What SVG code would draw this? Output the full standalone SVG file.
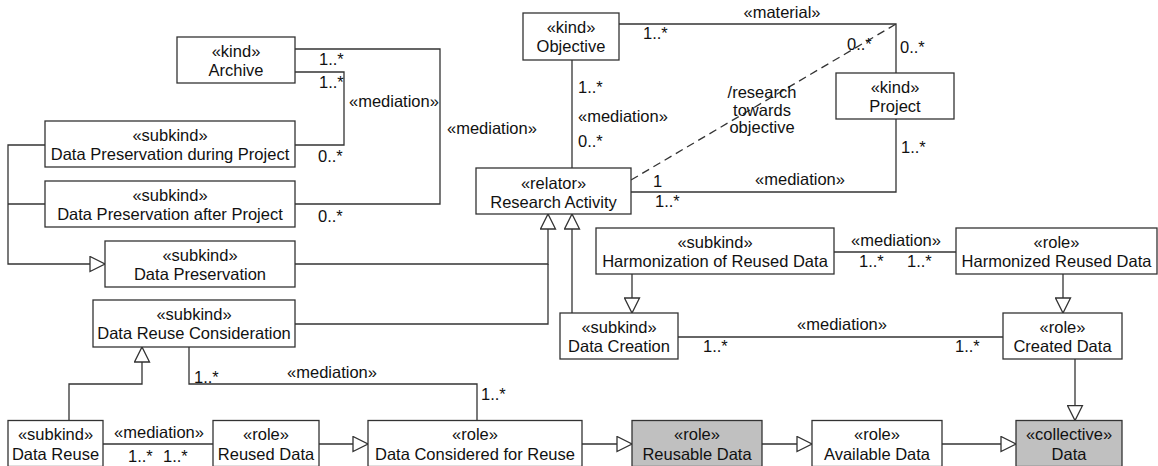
<svg xmlns="http://www.w3.org/2000/svg" width="1158" height="466" viewBox="0 0 1158 466">
<defs>
<style>
.box{fill:#fff;stroke:#333;stroke-width:1.3}
.gray{fill:#c0c0c0}
.ln{fill:none;stroke:#333;stroke-width:1.3}
.dash{stroke-dasharray:8 5}
.gen{marker-end:url(#tri)}
text{font-family:"Liberation Sans",Arial,sans-serif;font-size:16.5px;fill:#111}
.c{text-anchor:middle}
</style>
<marker id="tri" markerUnits="userSpaceOnUse" viewBox="-1 -1 18 17" refX="15" refY="7.5" markerWidth="18" markerHeight="17" orient="auto">
<path d="M0,0 L15,7.5 L0,15 Z" fill="#fff" stroke="#333" stroke-width="1.3"/>
</marker>
</defs>
<rect width="1158" height="466" fill="#fff"/>
<g id="connectors">
<path class="ln" d="M295,49 H440 V204 H295"/>
<path class="ln" d="M295,72 H344 V145 H295"/>
<path class="ln" d="M619,24 H896 V73"/>
<path class="ln" d="M572,60 V168"/>
<path class="ln" d="M631,192 H896 V119"/>
<path class="ln dash" d="M631,180 L896,24"/>
<path class="ln" d="M834,252 H956"/>
<path class="ln" d="M678,337 H1003"/>
<path class="ln" d="M189,347 V384 H477 V420.5"/>
<path class="ln" d="M103,444 H213"/>
<path class="ln" d="M45,204 H8"/>
<path class="ln gen" d="M45,145 H8 V264 H105"/>
<path class="ln" d="M295,324 H548 V264"/>
<path class="ln gen" d="M295,264 H548 V214"/>
<path class="ln gen" d="M572,313 V214"/>
<path class="ln gen" d="M632,274 V313"/>
<path class="ln gen" d="M1063,274 V313"/>
<path class="ln gen" d="M1075,359 V420.5"/>
<path class="ln gen" d="M69,420.5 V384 H142 V347"/>
<path class="ln gen" d="M319,444 H368"/>
<path class="ln gen" d="M582,444 H632"/>
<path class="ln gen" d="M762,444 H812"/>
<path class="ln gen" d="M942,444 H1016"/>
<text x="319" y="65">1..*</text>
<text x="319" y="88">1..*</text>
<text x="349" y="107">«mediation»</text>
<text x="318" y="162">0..*</text>
<text x="318" y="222">0..*</text>
<text x="447" y="134">«mediation»</text>
<text class="c" x="782" y="18">«material»</text>
<text x="643" y="39">1..*</text>
<text x="847" y="50">0..*</text>
<text x="900" y="53">0..*</text>
<text x="578" y="93">1..*</text>
<text x="578" y="122">«mediation»</text>
<text x="578" y="147">0..*</text>
<text class="c" x="762" y="98">/research</text>
<text class="c" x="762" y="116">towards</text>
<text class="c" x="762" y="133">objective</text>
<text x="653" y="187">1</text>
<text x="655" y="207">1..*</text>
<text class="c" x="800" y="185">«mediation»</text>
<text x="901" y="153">1..*</text>
<text class="c" x="896" y="246">«mediation»</text>
<text x="859" y="267">1..*</text>
<text x="907" y="267">1..*</text>
<text class="c" x="842" y="330">«mediation»</text>
<text x="703" y="352">1..*</text>
<text x="955" y="352">1..*</text>
<text x="194" y="383">1..*</text>
<text class="c" x="332" y="378">«mediation»</text>
<text x="481" y="400">1..*</text>
<text class="c" x="159" y="438">«mediation»</text>
<text x="128" y="462">1..*</text>
<text x="163" y="462">1..*</text>
</g>
<g id="archive"><rect class="box" x="177" y="37" width="118" height="46"/><text class="c" x="236" y="57">«kind»</text><text class="c" x="236" y="76">Archive</text></g>
<g id="dpdp"><rect class="box" x="45" y="121" width="250" height="46"/><text class="c" x="170" y="141">«subkind»</text><text class="c" x="170" y="160">Data Preservation during Project</text></g>
<g id="dpap"><rect class="box" x="45" y="181" width="250" height="46"/><text class="c" x="170" y="201">«subkind»</text><text class="c" x="170" y="220">Data Preservation after Project</text></g>
<g id="dp"><rect class="box" x="105" y="241" width="190" height="46"/><text class="c" x="200" y="261">«subkind»</text><text class="c" x="200" y="280">Data Preservation</text></g>
<g id="drc"><rect class="box" x="93" y="300" width="202" height="47"/><text class="c" x="194" y="320">«subkind»</text><text class="c" x="194" y="339">Data Reuse Consideration</text></g>
<g id="objective"><rect class="box" x="523" y="13" width="96" height="47"/><text class="c" x="571" y="33">«kind»</text><text class="c" x="571" y="52">Objective</text></g>
<g id="project"><rect class="box" x="836" y="73" width="118" height="46"/><text class="c" x="895" y="93">«kind»</text><text class="c" x="895" y="112">Project</text></g>
<g id="ra"><rect class="box" x="476" y="168" width="155" height="46"/><text class="c" x="553.5" y="189">«relator»</text><text class="c" x="553.5" y="208">Research Activity</text></g>
<g id="harm"><rect class="box" x="596" y="228" width="238" height="46"/><text class="c" x="715" y="248">«subkind»</text><text class="c" x="715" y="267">Harmonization of Reused Data</text></g>
<g id="hrd"><rect class="box" x="956" y="228" width="201" height="46"/><text class="c" x="1056.5" y="248">«role»</text><text class="c" x="1056.5" y="267">Harmonized Reused Data</text></g>
<g id="dc"><rect class="box" x="560" y="313" width="118" height="46"/><text class="c" x="619" y="333">«subkind»</text><text class="c" x="619" y="352">Data Creation</text></g>
<g id="cd"><rect class="box" x="1003" y="313" width="119" height="46"/><text class="c" x="1062.5" y="333">«role»</text><text class="c" x="1062.5" y="352">Created Data</text></g>
<g id="dr"><rect class="box" x="8" y="420.5" width="95" height="46"/><text class="c" x="55.5" y="440">«subkind»</text><text class="c" x="55.5" y="460">Data Reuse</text></g>
<g id="rd"><rect class="box" x="213" y="420.5" width="106" height="46"/><text class="c" x="266" y="440">«role»</text><text class="c" x="266" y="460">Reused Data</text></g>
<g id="dcr"><rect class="box" x="368" y="420.5" width="214" height="46"/><text class="c" x="475" y="440">«role»</text><text class="c" x="475" y="460">Data Considered for Reuse</text></g>
<g id="rsd"><rect class="box gray" x="632" y="420.5" width="130" height="46"/><text class="c" x="697" y="440">«role»</text><text class="c" x="697" y="460">Reusable Data</text></g>
<g id="ad"><rect class="box" x="812" y="420.5" width="130" height="46"/><text class="c" x="877" y="440">«role»</text><text class="c" x="877" y="460">Available Data</text></g>
<g id="data"><rect class="box gray" x="1016" y="420.5" width="106" height="46"/><text class="c" x="1069" y="440">«collective»</text><text class="c" x="1069" y="460">Data</text></g>
</svg>
